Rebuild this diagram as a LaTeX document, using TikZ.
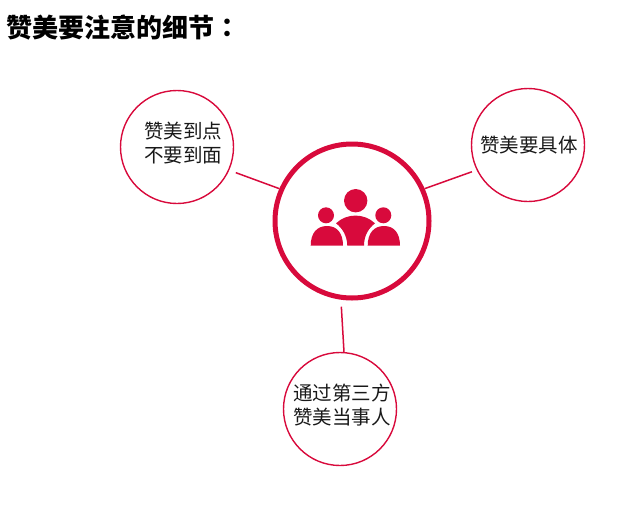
\documentclass[tikz,border=0pt]{standalone}
\usepackage{fontspec}
\setmainfont{Noto Sans CJK SC}
\newfontfamily\colonfont{Noto Sans CJK TC}
\definecolor{hubred}{HTML}{D80A3C}
\tikzset{
  hub/.style={circle,draw=hubred,line width=5pt,minimum size=154pt,inner sep=0pt},
  leaf/.style={circle,draw=hubred,line width=1.4pt,minimum size=113pt,inner sep=0pt},
  leaftext/.style={align=center,font=\fontsize{19.5}{24.5}\selectfont,text=black!90,inner sep=0pt},
  spoke/.style={draw=hubred,line width=1.5pt},
}

\begin{document}
\begin{tikzpicture}[x=1pt,y=-1pt]
  \useasboundingbox (0,0) rectangle (642,509);
  \node[anchor=west,inner sep=0pt,font=\fontsize{26}{28}\selectfont\bfseries] (title) at (6,28) {赞美要注意的细节{\colonfont\bfseries ：}};
  \node[hub] (center) at (352,221) {};
  \node[leaf] (detail) at (177,147) {};
  \node[leaf] (concrete) at (528,145) {};
  \node[leaf] (third) at (340,409) {};
  \node[leaftext] (detailtext) at (183,143) {赞美到点\\不要到面};
  \node[leaftext] (concretetext) at (529,145) {赞美要具体};
  \node[leaftext] (thirdtext) at (342,405) {通过第三方\\赞美当事人};
  \draw[spoke,shorten >=7pt] (center.156) -- (detail.-24);
  \draw[spoke,shorten >=5pt] (center.24) -- (concrete.206);
  \draw[spoke,shorten <=7pt] (center.262) -- (third.86);
  \fill[hubred] (355.7,200.7) circle [radius=11.7];
  \fill[hubred] (326,215.3) circle [radius=8];
  \fill[hubred] (383.3,215.3) circle [radius=8];
  \fill[hubred] (310.7,245.7) .. controls (310.7,233) and (317,226) .. (327,226)
    .. controls (337,226) and (343,233) .. (343,245.7) -- cycle;
  \fill[hubred] (367.7,245.7) .. controls (367.7,233) and (374,226) .. (384,226)
    .. controls (394,226) and (400,233) .. (400,245.7) -- cycle;
  \fill[hubred] (347.3,245.7) .. controls (347,235) and (342,228) .. (336,223.3)
    .. controls (347,213) and (364,213) .. (375,223.3)
    .. controls (369,228) and (364,235) .. (364,245.7) -- cycle;
\end{tikzpicture}
\end{document}
